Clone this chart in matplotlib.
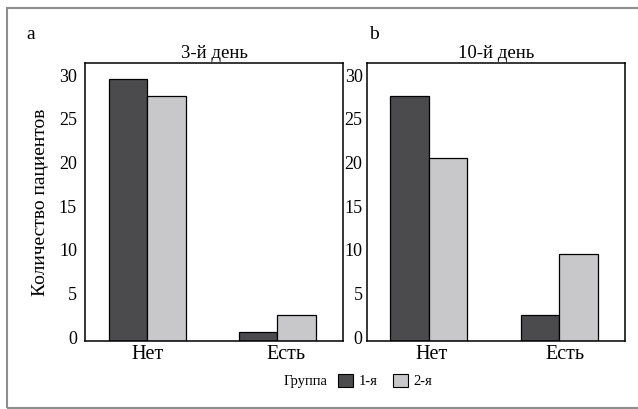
import matplotlib
matplotlib.use("Agg")
import matplotlib.pyplot as plt
import matplotlib.transforms as mtransforms
from matplotlib.patches import Rectangle, Patch
import numpy as np

categories = ["Нет", "Есть"]
groups = ["1-я", "2-я"]
day3_g1 = [30, 1]
day3_g2 = [28, 3]
day10_g1 = [28, 3]
day10_g2 = [21, 10]
titles = ["3-й день", "10-й день"]
panel_letters = ["a", "b"]
yticks = [0, 5, 10, 15, 20, 25, 30]

plt.rcParams['font.family'] = ['Liberation Serif', 'DejaVu Serif']

W, H = 638, 409
fig = plt.figure(figsize=(W / 100, H / 100), dpi=100)

dark = "#4b4b4d"
light = "#c8c8ca"

def px_axes(l, t, r, b):
    return fig.add_axes([l / W, 1 - b / H, (r - l) / W, (b - t) / H])

ax_a = px_axes(85.3, 63.3, 343.3, 341)
ax_b = px_axes(366.7, 63.3, 625.3, 341)

data = [(day3_g1, day3_g2), (day10_g1, day10_g2)]
x = np.arange(len(categories))
w = 0.295
xshifts = [(0, 9), (3, 6)]
for ax, (g1, g2), title, pad, xs in zip([ax_a, ax_b], data, titles, [6, 3], xshifts):
    ax.bar(x - w / 2, g1, width=w, color=dark, edgecolor="black", linewidth=0.9)
    ax.bar(x + w / 2, g2, width=w, color=light, edgecolor="black", linewidth=0.9)
    ax.set_xlim(-0.474, 1.505)
    ax.set_ylim(0, 31.8)
    ax.set_yticks(yticks)
    ax.set_xticks(x)
    ax.set_xticklabels(categories)
    ax.tick_params(axis="both", length=0)
    ax.tick_params(axis="y", pad=pad, labelsize=13)
    ax.tick_params(axis="x", pad=3, labelsize=14.5)
    for s in ax.spines.values():
        s.set_linewidth(1.1)
    ax.set_title(title, fontsize=13.5, pad=4)
    off = mtransforms.ScaledTranslation(0, 4 / 100, fig.dpi_scale_trans)
    for lab in ax.get_yticklabels():
        lab.set_transform(lab.get_transform() + off)
    for lab, dx in zip(ax.get_xticklabels(), xs):
        lab.set_transform(lab.get_transform() +
                          mtransforms.ScaledTranslation(dx / 100, 0, fig.dpi_scale_trans))

ax_a.set_ylabel("Количество пациентов", fontsize=14, labelpad=7)

fig.text(26 / W, 1 - 39 / H, "a", fontsize=14, ha="left", va="baseline")
fig.text(369 / W, 1 - 39 / H, "b", fontsize=14, ha="left", va="baseline")

# legend
fig.text(327 / W, 1 - 381 / H, "Группа", fontsize=10.5, ha="right", va="center")
handles = [Patch(facecolor=dark, edgecolor="black", linewidth=0.8),
           Patch(facecolor=light, edgecolor="black", linewidth=0.8)]
fig.legend(handles, groups, loc="center left", bbox_to_anchor=(338 / W, 1 - 381 / H),
           ncol=2, frameon=False, fontsize=10.5, borderpad=0, borderaxespad=0,
           handlelength=1.05, handleheight=1.05, handletextpad=0.4,
           columnspacing=1.0)

# outer frame
fig.add_artist(Rectangle((7 / W, 1 - 408 / H), (W + 10) / W, 400 / H,
                         transform=fig.transFigure, fill=False,
                         edgecolor="#8e8e8e", linewidth=1.5, clip_on=False))

fig.savefig("out.png", dpi=100)
